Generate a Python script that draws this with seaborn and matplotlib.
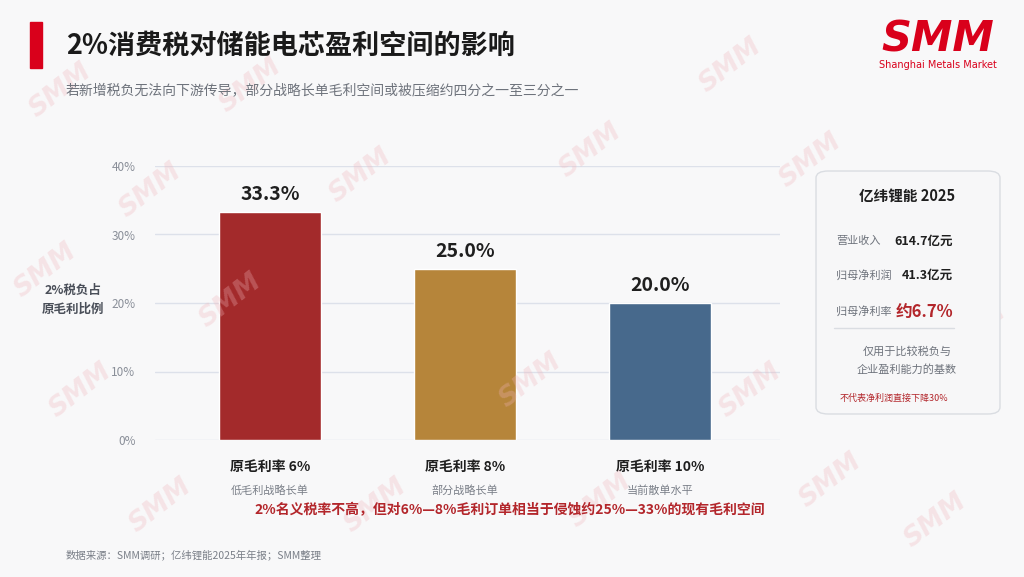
import pandas as pd
import matplotlib.pyplot as plt
import seaborn as sns
from matplotlib.patches import FancyBboxPatch, Rectangle

# data
categories = ['原毛利率 6%', '原毛利率 8%', '原毛利率 10%']
sub_labels = ['低毛利战略长单', '部分战略长单', '当前散单水平']
tax_share = [33.3, 25.0, 20.0]
bar_colors = ['#A32A2B', '#B6853A', '#47698C']
y_ticks = [0, 10, 20, 30, 40]

panel_rows = ['营业收入', '归母净利润', '归母净利率']
panel_values = ['614.7亿元', '41.3亿元', '约6.7%']

df = pd.DataFrame({'cat': categories, 'share': tax_share})

sns.set_style('white')
plt.rcParams['font.family'] = ['Noto Sans CJK SC', 'DejaVu Sans']

BG = '#F8F8F9'
fig = plt.figure(figsize=(10.24, 5.77), dpi=100, facecolor=BG)

# watermark
wm = [(730, 65), (60, 90), (250, 85), (150, 190), (360, 175), (590, 150), (810, 160),
      (45, 270), (230, 300), (975, 330), (80, 390), (530, 380), (750, 390),
      (160, 505), (375, 505), (600, 500), (830, 480), (935, 520)]
for (px, py) in wm:
    fig.text(px / 1024, 1 - py / 577, 'SMM', color='#F0B4BA', alpha=0.3, fontsize=19,
             fontweight='bold', style='italic', rotation=38, ha='center', va='center',
             family='DejaVu Sans', zorder=0)

ax = fig.add_axes([155 / 1024, 137 / 577, 625 / 1024, 274 / 577])
ax.set_facecolor('none')
sns.barplot(data=df, x='cat', y='share', hue='cat', palette=bar_colors, width=0.52,
            saturation=1, legend=False, ax=ax, zorder=3)
ax.set_xlim(-0.59, 2.615)
ax.set_ylim(0, 40)
ax.set_yticks(y_ticks)
ax.set_yticklabels([f'{v}%' for v in y_ticks], color='#8A8F99', fontsize=8.5)
ax.tick_params(axis='y', length=0, pad=14)
ax.tick_params(axis='x', length=0)
ax.set_xticklabels([])
ax.set_xlabel('')
ax.set_ylabel('')
for s in ax.spines.values():
    s.set_visible(False)
ax.grid(axis='y', color='#DDE1EA', linewidth=1, zorder=0)

for i, v in enumerate(tax_share):
    ax.text(i, v + 1.2, f'{v:.1f}%', ha='center', va='bottom', fontsize=14,
            fontweight='bold', color='#1F1F1F')
    ax.text(i, -0.1, categories[i], transform=ax.get_xaxis_transform(), ha='center',
            va='center', fontsize=10, fontweight='bold', color='#1F1F1F')
    ax.text(i, -0.185, sub_labels[i], transform=ax.get_xaxis_transform(), ha='center',
            va='center', fontsize=8, color='#7A7F88')

fig.text(73 / 1024, 1 - 300 / 577, '2%税负占\n原毛利比例', ha='center', va='center',
         fontsize=9, fontweight='bold', color='#4A4F59', linespacing=1.6)

# title block
fig.patches.append(Rectangle((30 / 1024, 1 - 68 / 577), 12 / 1024, 46 / 577,
                             transform=fig.transFigure, color='#D9001B'))
fig.text(66 / 1024, 1 - 46 / 577, '2%消费税对储能电芯盈利空间的影响', ha='left', va='center',
         fontsize=19.5, fontweight='bold', color='#1A1A1A')
fig.text(66 / 1024, 1 - 90 / 577, '若新增税负无法向下游传导，部分战略长单毛利空间或被压缩约四分之一至三分之一',
         ha='left', va='center', fontsize=10, color='#6E737C')

# logo
fig.text(938 / 1024, 1 - 40 / 577, 'SMM', ha='center', va='center', fontsize=30,
         fontweight='heavy', style='italic', color='#D9001B', family='DejaVu Sans')
fig.text(938 / 1024, 1 - 65 / 577, 'Shanghai Metals Market', ha='center', va='center',
         fontsize=7, color='#D9001B', family='DejaVu Sans')

# note
fig.text(510 / 1024, 1 - 510 / 577, '2%名义税率不高，但对6%—8%毛利订单相当于侵蚀约25%—33%的现有毛利空间',
         ha='center', va='center', fontsize=10, fontweight='bold', color='#B3262B')
fig.text(66 / 1024, 1 - 555 / 577, '数据来源：SMM调研；亿纬锂能2025年年报；SMM整理',
         ha='left', va='center', fontsize=7.5, color='#7A7F88')

# side panel
fig.patches.append(FancyBboxPatch((816 / 1024, 1 - 414 / 577), 184 / 1024, 243 / 577,
                                  boxstyle='round,pad=0,rounding_size=0.012',
                                  transform=fig.transFigure, facecolor='#F7F7F8',
                                  edgecolor='#DADDE2', linewidth=1))
fig.text(907 / 1024, 1 - 196 / 577, '亿纬锂能 2025', ha='center', va='center',
         fontsize=10.5, fontweight='bold', color='#1F1F1F')
row_y = [241, 275, 311]
for j, (lab, val) in enumerate(zip(panel_rows, panel_values)):
    fig.text(836 / 1024, 1 - row_y[j] / 577, lab, ha='left', va='center',
             fontsize=8, color='#6E737C')
    if j == 2:
        fig.text(953 / 1024, 1 - (row_y[j] + 2) / 577, val, ha='right', va='center',
                 fontsize=12, fontweight='bold', color='#B3262B')
    else:
        fig.text(953 / 1024, 1 - row_y[j] / 577, val, ha='right', va='center',
                 fontsize=9, fontweight='bold', color='#1F1F1F')
fig.add_artist(plt.Line2D([834 / 1024, 954 / 1024], [1 - 328 / 577, 1 - 328 / 577],
                          color='#DADDE2', linewidth=1))
fig.text(907 / 1024, 1 - 352 / 577, '仅用于比较税负与', ha='center', va='center',
         fontsize=8, color='#6E737C')
fig.text(907 / 1024, 1 - 370 / 577, '企业盈利能力的基数', ha='center', va='center',
         fontsize=8, color='#6E737C')
fig.text(894 / 1024, 1 - 398 / 577, '不代表净利润直接下降30%', ha='center', va='center',
         fontsize=6.5, color='#B3262B')

fig.savefig('out.png', dpi=100, facecolor=BG)
